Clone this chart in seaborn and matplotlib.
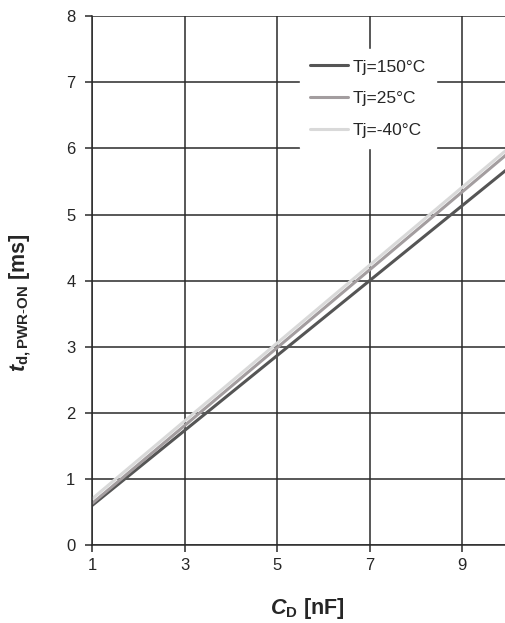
import numpy as np
import pandas as pd
import matplotlib
matplotlib.use("Agg")
import matplotlib.pyplot as plt
import seaborn as sns

# Valeurs
cd_nf = [1, 10]
td_150 = [0.60, 5.70]
td_25 = [0.63, 5.93]
td_m40 = [0.70, 6.00]
series = ["Tj=150°C", "Tj=25°C", "Tj=-40°C"]
couleurs = ["#555555", "#a39d9f", "#d9d9d9"]

df = pd.DataFrame({
    "cd": cd_nf * 3,
    "td": td_150 + td_25 + td_m40,
    "serie": [series[0]] * 2 + [series[1]] * 2 + [series[2]] * 2,
})

sns.set_style("white")
plt.rcParams["font.family"] = ["Liberation Sans", "DejaVu Sans"]
plt.rcParams["mathtext.fontset"] = "custom"
plt.rcParams["mathtext.it"] = "Liberation Sans:italic"
plt.rcParams["mathtext.bf"] = "Liberation Sans:bold"
plt.rcParams["mathtext.bfit"] = "Liberation Sans:bold:italic"
plt.rcParams["mathtext.rm"] = "Liberation Sans"

fig = plt.figure(figsize=(5.06, 6.23), dpi=100)
ax = fig.add_axes([0.182, 0.125, 0.818, 0.849])

sns.lineplot(data=df, x="cd", y="td", hue="serie", hue_order=series,
             palette=couleurs, linewidth=2.2, ax=ax)

ax.set_xlim(1, 9.95)
ax.set_ylim(0, 8)
ax.set_xticks([1, 3, 5, 7, 9])
ax.set_yticks(range(0, 9))
ax.grid(True, color="#2a2a2a", linewidth=1.1)
ax.set_axisbelow(True)
for s in ["top", "right"]:
    ax.spines[s].set_visible(False)
for s in ["left", "bottom"]:
    ax.spines[s].set_color("#2a2a2a")
    ax.spines[s].set_linewidth(1.1)
ax.tick_params(axis="both", direction="out", length=5, width=1.1,
               color="#2a2a2a", labelsize=12, left=True, bottom=True)
ax.tick_params(axis="y", pad=7)
ax.tick_params(axis="x", pad=4)

ax.set_xlabel(r"$\mathbfit{C}_{\mathbf{D}}$ [nF]", fontsize=15.5,
              fontweight="bold")
ax.set_ylabel(r"$\mathbfit{t}_{\mathbf{d,PWR\text{-}ON}}$ [ms]", fontsize=15.5,
              fontweight="bold")
ax.xaxis.set_label_coords(0.519, -0.096)
ax.yaxis.set_label_coords(-0.143, 0.459)

leg = ax.legend(title=None, loc="upper left", bbox_to_anchor=(0.502, 0.938),
                frameon=True, fontsize=12.5, handlelength=2.2,
                handletextpad=0.25, labelspacing=0.95, borderpad=0.6,
                borderaxespad=0, fancybox=False)
leg.get_frame().set_edgecolor("white")
leg.get_frame().set_facecolor("white")
leg.get_frame().set_alpha(1)

fig.savefig("out.png", dpi=100)
